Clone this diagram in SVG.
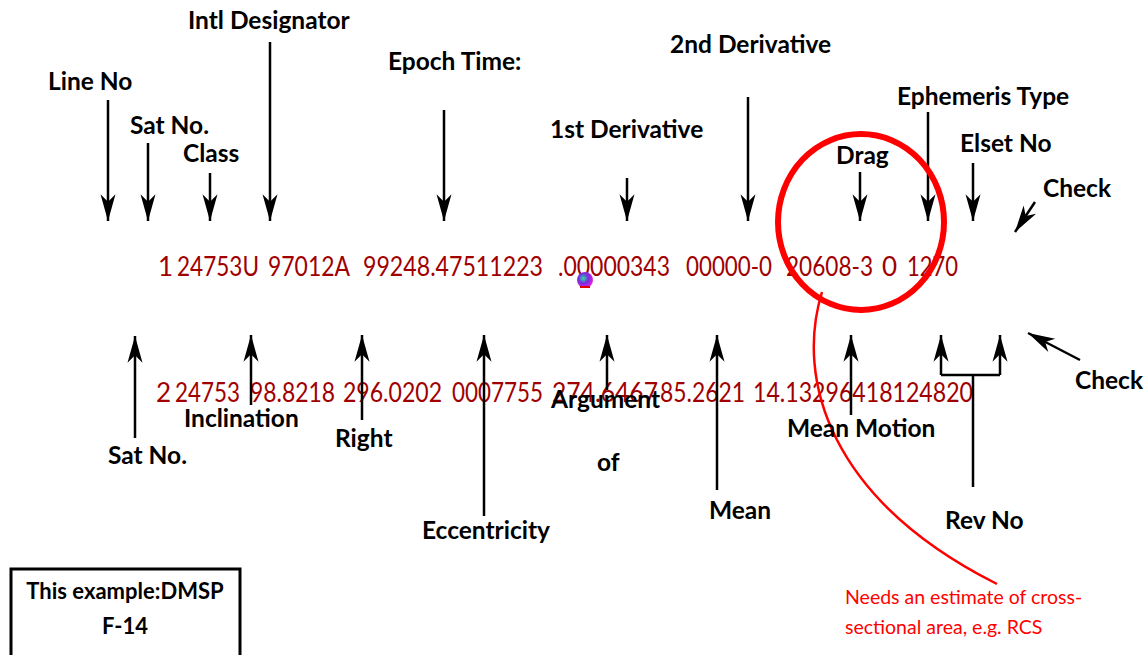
<svg xmlns="http://www.w3.org/2000/svg" width="1145" height="655" viewBox="0 0 1145 655">
<defs>
<marker id="ah" markerUnits="userSpaceOnUse" markerWidth="30" markerHeight="20" viewBox="-26 -8 28 16" refX="0" refY="0" orient="auto">
<path d="M0,0 L-25,-7 L-18,0 L-25,7 Z" fill="#000"/>
</marker>
<radialGradient id="dot" cx="0.4" cy="0.4" r="0.6">
<stop offset="0" stop-color="#30e0a0"/>
<stop offset="0.5" stop-color="#7030e0"/>
<stop offset="1" stop-color="#e020e0"/>
</radialGradient>
</defs>
<style>
.lbl{font-family:Lato,"Liberation Sans",sans-serif;font-weight:bold;font-size:24.5px;fill:#000}
.box{font-size:22px}
.tle{font-family:Lato,"Liberation Sans",sans-serif;font-size:26px;fill:#A00000}
.note{font-family:Lato,"Liberation Sans",sans-serif;font-size:19.5px;fill:#FF0000}
.ar{stroke:#000;stroke-width:2.5;fill:none;marker-end:url(#ah)}
.ln{stroke:#000;stroke-width:2.5;fill:none}
</style>
<rect width="1145" height="655" fill="#fff"/>

<g id="tle-line1">
<text class="tle" x="158" y="276">1</text>
<text class="tle" x="177" y="276" textLength="82" lengthAdjust="spacingAndGlyphs">24753U</text>
<text class="tle" x="268" y="276" textLength="82" lengthAdjust="spacingAndGlyphs">97012A</text>
<text class="tle" x="363" y="276" textLength="180" lengthAdjust="spacingAndGlyphs">99248.47511223</text>
<text class="tle" x="558" y="276" textLength="112" lengthAdjust="spacingAndGlyphs">.00000343</text>
<text class="tle" x="686" y="276" textLength="86" lengthAdjust="spacingAndGlyphs">00000-0</text>
<text class="tle" x="786" y="276" textLength="87" lengthAdjust="spacingAndGlyphs">20608-3</text>
<text class="tle" x="882" y="276">0</text>
<text class="tle" x="907" y="276" textLength="51" lengthAdjust="spacingAndGlyphs">1270</text>
</g>
<g id="tle-line2">
<text class="tle" x="156" y="402">2</text>
<text class="tle" x="175" y="402" textLength="65" lengthAdjust="spacingAndGlyphs">24753</text>
<text class="tle" x="250" y="402" textLength="85" lengthAdjust="spacingAndGlyphs">98.8218</text>
<text class="tle" x="343" y="402" textLength="99" lengthAdjust="spacingAndGlyphs">296.0202</text>
<text class="tle" x="452" y="402" textLength="91" lengthAdjust="spacingAndGlyphs">0007755</text>
<text class="tle" x="552" y="402" textLength="106" lengthAdjust="spacingAndGlyphs">274.6467</text>
<text class="tle" x="660" y="402" textLength="85" lengthAdjust="spacingAndGlyphs">85.2621</text>
<text class="tle" x="753" y="402" textLength="220" lengthAdjust="spacingAndGlyphs">14.13296418124820</text>
</g>

<g id="dot-icon"><circle cx="585" cy="280" r="8" fill="url(#dot)"/><path d="M580,286 h10 v2 h-10z" fill="#e00000"/></g>

<g id="connectors">
<line class="ar" x1="108" y1="100" x2="108" y2="221"/>
<line class="ar" x1="148" y1="143" x2="148" y2="221"/>
<line class="ar" x1="210" y1="173" x2="210" y2="221"/>
<line class="ar" x1="270" y1="42" x2="270" y2="221"/>
<line class="ar" x1="444" y1="110" x2="444" y2="221"/>
<line class="ar" x1="627" y1="178" x2="627" y2="221"/>
<line class="ar" x1="748" y1="97" x2="748" y2="221"/>
<line class="ar" x1="860" y1="172" x2="860" y2="221"/>
<line class="ar" x1="928" y1="112" x2="928" y2="221"/>
<line class="ar" x1="973" y1="163" x2="973" y2="221"/>
<line class="ar" x1="1035" y1="202" x2="1015" y2="232"/>
<line class="ar" x1="135" y1="438" x2="135" y2="336"/>
<line class="ar" x1="251" y1="405" x2="251" y2="335"/>
<line class="ar" x1="362" y1="420" x2="362" y2="335"/>
<line class="ar" x1="484" y1="516" x2="484" y2="335"/>
<line class="ar" x1="607" y1="390" x2="607" y2="335"/>
<line class="ar" x1="717" y1="490" x2="717" y2="335"/>
<line class="ar" x1="851" y1="415" x2="851" y2="335"/>
<line class="ar" x1="941" y1="375" x2="941" y2="335"/>
<line class="ar" x1="1000" y1="375" x2="1000" y2="335"/>
<line class="ln" x1="941" y1="375" x2="1000" y2="375"/>
<line class="ln" x1="973" y1="375" x2="973" y2="487"/>
<line class="ar" x1="1080" y1="360" x2="1028" y2="333"/>
<path d="M822,292 C795,380 830,500 997,584" stroke="#FF0000" stroke-width="2.5" fill="none"/>
</g>

<g id="drag-circle"><ellipse cx="861" cy="222" rx="83" ry="88" stroke="#FF0000" stroke-width="6" fill="none"/></g>

<g id="labels-top">
<text class="lbl" x="188" y="29">Intl Designator</text>
<text class="lbl" x="48" y="90">Line No</text>
<text class="lbl" x="130" y="134">Sat No.</text>
<text class="lbl" x="183" y="162">Class</text>
<text class="lbl" x="388" y="70">Epoch Time:</text>
<text class="lbl" x="670" y="53">2nd Derivative</text>
<text class="lbl" x="550" y="138">1st Derivative</text>
<text class="lbl" x="836" y="164">Drag</text>
<text class="lbl" x="897" y="105">Ephemeris Type</text>
<text class="lbl" x="960" y="152">Elset No</text>
<text class="lbl" x="1043" y="197">Check</text>
</g>
<g id="labels-bottom">
<text class="lbl" x="184" y="427">Inclination</text>
<text class="lbl" x="108" y="464">Sat No.</text>
<text class="lbl" x="335" y="447">Right</text>
<text class="lbl" x="551" y="408">Argument</text>
<text class="lbl" x="597" y="471">of</text>
<text class="lbl" x="422" y="539">Eccentricity</text>
<text class="lbl" x="709" y="519">Mean</text>
<text class="lbl" x="787" y="437">Mean Motion</text>
<text class="lbl" x="945" y="529">Rev No</text>
<text class="lbl" x="1075" y="389">Check</text>
</g>

<g id="example-box">
<rect x="11" y="569" width="229" height="100" fill="#fff" stroke="#000" stroke-width="3"/>
<text class="lbl box" x="125" y="599" text-anchor="middle">This example:DMSP</text>
<text class="lbl box" x="125" y="634" text-anchor="middle">F-14</text>
</g>

<g id="note">
<text class="note" x="845" y="604">Needs an estimate of cross-</text>
<text class="note" x="845" y="634">sectional area, e.g. RCS</text>
</g>
</svg>
